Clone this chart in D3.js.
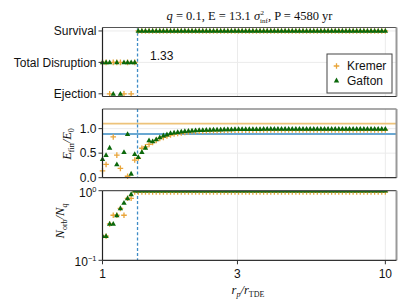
<!DOCTYPE html>
<html><head><meta charset="utf-8">
<script src="https://cdn.jsdelivr.net/npm/d3@7"></script>
<style>
body{margin:0;background:#fff;}
svg{display:block;}
text{font-family:"Liberation Sans",Arial,sans-serif;fill:#111;}
.serif{font-family:"Liberation Serif","DejaVu Serif",serif;}
</style></head><body>
<svg id="c" width="407" height="306"></svg>
<script>
// ---------------- data ----------------
const categories = ["Ejection", "Total Disruption", "Survival"];
const rp = [
 1.0000,1.0296,1.0600,1.0914,1.1237,1.1569,1.1911,1.2263,1.2626,1.2999,
 1.3384,1.3780,1.4187,1.4607,1.5039,1.5483,1.5941,1.6413,1.6898,1.7398,
 1.7913,1.8442,1.8988,1.9549,2.0128,2.0723,2.1336,2.1967,2.2617,2.3286,
 2.3974,2.4683,2.5413,2.6165,2.6939,2.7736,2.8556,2.9400,3.0270,3.1165,
 3.2087,3.3036,3.4013,3.5019,3.6055,3.7121,3.8219,3.9350,4.0513,4.1712,
 4.2945,4.4215,4.5523,4.6870,4.8256,4.9683,5.1152,5.2665,5.4223,5.5827,
 5.7476,5.9176,6.0927,6.2729,6.4584,6.6494,6.8461,7.0485,7.2570,7.4716,
 7.6927,7.9202,8.1544,8.3956,8.6439,8.8996,9.1628,9.4338,9.7128,10.000
];
// outcome index into categories
const kremerOutcome = [
 1,1,0,1,1,1,0,1,0,1,
 2,2,2,2,2,2,2,2,2,2, 2,2,2,2,2,2,2,2,2,2,
 2,2,2,2,2,2,2,2,2,2, 2,2,2,2,2,2,2,2,2,2,
 2,2,2,2,2,2,2,2,2,2, 2,2,2,2,2,2,2,2,2,2,
 2,2,2,2,2,2,2,2,2,2
];
const gaftonOutcome = [
 1,1,1,0,1,0,1,1,1,1,
 2,2,2,2,2,2,2,2,2,2, 2,2,2,2,2,2,2,2,2,2,
 2,2,2,2,2,2,2,2,2,2, 2,2,2,2,2,2,2,2,2,2,
 2,2,2,2,2,2,2,2,2,2, 2,2,2,2,2,2,2,2,2,2,
 2,2,2,2,2,2,2,2,2,2
];
const kremerEnergy = [
 0.14,0.27,null,0.83,0.46,0.19,null,0.03,null,0.36,
 0.40,0.60,0.63,0.68,0.72,0.76,0.80,0.82,0.85,0.87,
 0.89,0.90,0.91,0.92,0.93,0.94,0.945,0.95,0.95,0.955,
 0.96,0.96,0.96,0.965,0.965,0.965,0.97,0.97,0.97,0.97,
 0.97,0.97,0.97,0.97,0.975,0.975,0.975,0.975,0.975,0.975,
 0.975,0.975,0.975,0.975,0.975,0.975,0.975,0.975,0.975,0.975,
 0.975,0.975,0.975,0.975,0.975,0.975,0.975,0.975,0.975,0.975,
 0.975,0.975,0.975,0.975,0.975,0.975,0.975,0.975,0.975,0.975
];
const gaftonEnergy = [
 0.38,0.46,0.61,null,0.27,null,0.52,0.89,0.08,0.48,
 0.42,0.52,0.61,0.76,0.74,0.78,0.82,0.86,0.88,0.91,
 0.92,0.93,0.94,0.95,0.955,0.96,0.965,0.97,0.97,0.975,
 0.975,0.98,0.98,0.98,0.985,0.985,0.985,0.99,0.99,0.99,
 0.99,0.99,0.99,0.99,0.99,0.995,0.995,0.995,0.995,0.995,
 0.995,0.995,0.995,0.995,0.995,0.995,0.995,0.995,0.995,0.995,
 0.995,0.995,0.995,0.995,0.995,0.995,0.995,0.995,0.995,0.995,
 0.995,0.995,0.995,0.995,0.995,0.995,0.995,0.995,0.995,0.995
];
const kremerBound = [
 0.222,0.222,0.333,0.444,0.444,0.556,0.444,0.778,0.778,0.96,
 0.96,0.96,0.96,0.96,0.96,0.96,0.96,0.96,0.96,0.96,
 0.96,0.96,0.96,0.96,0.96,0.96,0.96,0.96,0.96,0.96,
 0.96,0.96,0.96,0.96,0.96,0.96,0.96,0.96,0.96,0.96,
 0.96,0.96,0.96,0.96,0.96,0.96,0.96,0.96,0.96,0.96,
 0.96,0.96,0.96,0.96,0.96,0.96,0.96,0.96,0.96,0.96,
 0.96,0.96,0.96,0.96,0.96,0.96,0.96,0.96,0.96,0.96,
 0.96,0.96,0.96,0.96,0.96,0.96,0.96,0.96,0.96,0.96
];
const gaftonBound = [
 0.222,0.222,0.333,0.333,0.444,0.556,0.667,0.778,0.889,1,
 1,1,1,1,1,1,1,1,1,1, 1,1,1,1,1,1,1,1,1,1,
 1,1,1,1,1,1,1,1,1,1, 1,1,1,1,1,1,1,1,1,1,
 1,1,1,1,1,1,1,1,1,1, 1,1,1,1,1,1,1,1,1,1,
 1,1,1,1,1,1,1,1,1,1
];
const rCritical = 1.33;
const kremerEnergyRef = 1.1;
const gaftonEnergyRef = 0.89;
const xTicks = [1, 3, 10];
const energyTicks = [0, 0.5, 1.0];
const boundTicks = [0.1, 1];
const seriesNames = ["Kremer", "Gafton"];

// ---------------- styling ----------------
const colK = "#E9A53A", colG = "#0B680B";
const colRefK = "#EDC37A", colRefG = "#6AA8D2", colDash = "#3F8CC6";
const gridCol = "#ebebeb";

const svg = d3.select("#c");
const L = 102.5, R = 396.5;
const x = d3.scaleLog().domain([1, 10.95]).range([L, R]);

const P1 = {top: 27.5, bottom: 96.5};
const P2 = {top: 109, bottom: 177.7};
const P3 = {top: 190.7, bottom: 260.3};

const y1 = d3.scaleLinear().domain([-0.085, 2.11]).range([P1.bottom, P1.top]);
const y2 = d3.scaleLinear().domain([0, 1.4]).range([P2.bottom, P2.top]);
const y3 = d3.scaleLog().domain([0.1, 1]).range([P3.bottom, P3.top]);

const crossPath = "M-2.8,0H2.8M0,-2.8V2.8";
const triPath = "M0,-2.9L2.7,1.9L-2.7,1.9Z";

function drawMarkers(g, xs, ys, kind) {
  const pts = xs.map((v, i) => [v, ys[i]]).filter(d => d[1] !== null && d[1] !== undefined);
  if (kind === "K") {
    g.selectAll(null).data(pts).join("path")
      .attr("d", crossPath)
      .attr("transform", d => `translate(${d[0]},${d[1]})`)
      .attr("stroke", colK).attr("stroke-width", 1.3).attr("fill", "none");
  } else {
    g.selectAll(null).data(pts).join("path")
      .attr("d", triPath)
      .attr("transform", d => `translate(${d[0]},${d[1]})`)
      .attr("fill", colG);
  }
}

function panelFrame(P, yScale, hGrid) {
  const g = svg.append("g");
  g.selectAll(null).data(xTicks.slice(1)).join("line")
    .attr("x1", d => x(d)).attr("x2", d => x(d))
    .attr("y1", P.top).attr("y2", P.bottom)
    .attr("stroke", gridCol).attr("stroke-width", 1);
  g.selectAll(null).data(hGrid).join("line")
    .attr("x1", L).attr("x2", R)
    .attr("y1", d => yScale(d)).attr("y2", d => yScale(d))
    .attr("stroke", gridCol).attr("stroke-width", 1);
  return g;
}

function spines(P) {
  const g = svg.append("g");
  g.append("line").attr("x1", L).attr("x2", R).attr("y1", P.top).attr("y2", P.top)
    .attr("stroke", "#555").attr("stroke-width", 1.2);
  g.append("line").attr("x1", R).attr("x2", R).attr("y1", P.top).attr("y2", P.bottom)
    .attr("stroke", "#999").attr("stroke-width", 2);
  g.append("line").attr("x1", L).attr("x2", R).attr("y1", P.bottom).attr("y2", P.bottom)
    .attr("stroke", "#333").attr("stroke-width", 1.2);
  g.append("line").attr("x1", L).attr("x2", L).attr("y1", P.top).attr("y2", P.bottom)
    .attr("stroke", "#222").attr("stroke-width", 1.2);
}

function dashLine(P) {
  svg.append("line").attr("x1", x(rCritical)).attr("x2", x(rCritical))
    .attr("y1", P.top).attr("y2", P.bottom)
    .attr("stroke", colDash).attr("stroke-width", 1.3).attr("stroke-dasharray", "3,2.2");
}

function yTicks(vals, yScale, fmtFn) {
  const g = svg.append("g");
  vals.forEach(v => {
    const yy = yScale(v);
    g.append("line").attr("x1", L - 4).attr("x2", L).attr("y1", yy).attr("y2", yy)
      .attr("stroke", "#333").attr("stroke-width", 1);
    fmtFn(g, v, yy);
  });
}

// ---------- Panel 1: outcomes ----------
panelFrame(P1, y1, [0, 1, 2]);
dashLine(P1);
const g1 = svg.append("g");
drawMarkers(g1, rp.map(x), kremerOutcome.map(v => y1(v)), "K");
drawMarkers(g1, rp.map(x), gaftonOutcome.map(v => y1(v)), "G");
spines(P1);
yTicks([0, 1, 2], y1, (g, v, yy) => {
  g.append("text").attr("x", L - 6).attr("y", yy).attr("dy", "0.36em")
    .attr("text-anchor", "end").attr("font-size", 12).text(categories[v]);
});
svg.append("text").attr("x", 150).attr("y", 60).attr("font-size", 12).text(rCritical.toFixed(2));

// legend
const lg = svg.append("g");
lg.append("rect").attr("x", 327).attr("y", 54).attr("width", 65).attr("height", 39)
  .attr("fill", "#fff").attr("stroke", "#444").attr("stroke-width", 1);
lg.append("path").attr("d", crossPath).attr("transform", "translate(336.5,66)")
  .attr("stroke", colK).attr("stroke-width", 1.3).attr("fill", "none");
lg.append("path").attr("d", triPath).attr("transform", "translate(336.5,80.5)").attr("fill", colG);
lg.append("text").attr("x", 347).attr("y", 70).attr("font-size", 12).text(seriesNames[0]);
lg.append("text").attr("x", 347).attr("y", 85).attr("font-size", 12).text(seriesNames[1]);

// title
const title = svg.append("text").attr("class", "serif").attr("x", 249.5).attr("y", 20)
  .attr("text-anchor", "middle").attr("font-size", 12.5);
title.append("tspan").attr("font-style", "italic").text("q");
title.append("tspan").text(" = 0.1, E = 13.1 ");
title.append("tspan").attr("font-style", "italic").text("σ");
title.append("tspan").attr("font-size", 7).attr("dy", -5).attr("dx", 0.5).text("2");
title.append("tspan").attr("font-size", 7).attr("dy", 8).attr("dx", -4).text("inf");
title.append("tspan").attr("dy", -3).text(", P = 4580 yr");

// ---------- Panel 2: energy ----------
panelFrame(P2, y2, [0.5, 1.0]);
svg.append("line").attr("x1", L).attr("x2", R).attr("y1", y2(kremerEnergyRef)).attr("y2", y2(kremerEnergyRef))
  .attr("stroke", colRefK).attr("stroke-width", 1.8);
svg.append("line").attr("x1", L).attr("x2", R).attr("y1", y2(gaftonEnergyRef)).attr("y2", y2(gaftonEnergyRef))
  .attr("stroke", colRefG).attr("stroke-width", 2);
dashLine(P2);
const g2 = svg.append("g");
drawMarkers(g2, rp.map(x), kremerEnergy.map(v => v === null ? null : y2(v)), "K");
drawMarkers(g2, rp.map(x), gaftonEnergy.map(v => v === null ? null : y2(v)), "G");
spines(P2);
yTicks(energyTicks, y2, (g, v, yy) => {
  g.append("text").attr("x", L - 6).attr("y", yy).attr("dy", "0.33em")
    .attr("text-anchor", "end").attr("font-size", 12).text(d3.format(".1f")(v));
});
const yl2 = svg.append("text").attr("class", "serif").attr("font-size", 12.5)
  .attr("transform", "translate(71,144) rotate(-90)").attr("text-anchor", "middle");
yl2.append("tspan").attr("font-style", "italic").text("E");
yl2.append("tspan").attr("font-size", 8).attr("dy", 2.5).text("fin");
yl2.append("tspan").attr("dy", -2.5).attr("font-style", "italic").text("/E");
yl2.append("tspan").attr("font-size", 8).attr("dy", 2.5).text("0");

// ---------- Panel 3: bound fraction ----------
panelFrame(P3, y3, []);
dashLine(P3);
svg.append("clipPath").attr("id", "clip3").append("rect")
  .attr("x", L).attr("y", P3.top).attr("width", R - L).attr("height", P3.bottom - P3.top);
const g3 = svg.append("g").attr("clip-path", "url(#clip3)");
drawMarkers(g3, rp.map(x), kremerBound.map(v => y3(v)), "K");
drawMarkers(g3, rp.map(x), gaftonBound.map(v => y3(v)), "G");
spines(P3);
yTicks(boundTicks, y3, (g, v, yy) => {
  const t = g.append("text").attr("x", L - 6).attr("y", yy + 6)
    .attr("text-anchor", "end").attr("font-size", 12);
  const e = Math.round(Math.log10(v));
  t.append("tspan").text("10");
  t.append("tspan").attr("font-size", 7.5).attr("dy", -5).text(e === 0 ? "0" : "−1");
});
const yl3 = svg.append("text").attr("class", "serif").attr("font-size", 12.5)
  .attr("transform", "translate(64,221) rotate(-90)").attr("text-anchor", "middle");
yl3.append("tspan").attr("font-style", "italic").text("N");
yl3.append("tspan").attr("font-size", 8).attr("dy", 2.5).text("orb");
yl3.append("tspan").attr("dy", -2.5).attr("font-style", "italic").text("/N");
yl3.append("tspan").attr("font-size", 8).attr("dy", 2.5).attr("font-style", "italic").text("q");

// x axis ticks
const gx = svg.append("g");
xTicks.forEach(v => {
  gx.append("line").attr("x1", x(v)).attr("x2", x(v)).attr("y1", P3.bottom).attr("y2", P3.bottom + 4)
    .attr("stroke", "#333").attr("stroke-width", 1);
  gx.append("text").attr("x", x(v)).attr("y", P3.bottom + 18).attr("text-anchor", "middle")
    .attr("font-size", 12).text(v);
});
const xl = svg.append("text").attr("class", "serif").attr("x", 248).attr("y", 294)
  .attr("text-anchor", "middle").attr("font-size", 12.5);
xl.append("tspan").attr("font-style", "italic").text("r");
xl.append("tspan").attr("font-size", 8).attr("dy", 2.5).attr("font-style", "italic").text("p");
xl.append("tspan").attr("dy", -2.5).attr("font-style", "italic").text("/r");
xl.append("tspan").attr("font-size", 8).attr("dy", 2.5).text("TDE");
</script>
</body></html>
